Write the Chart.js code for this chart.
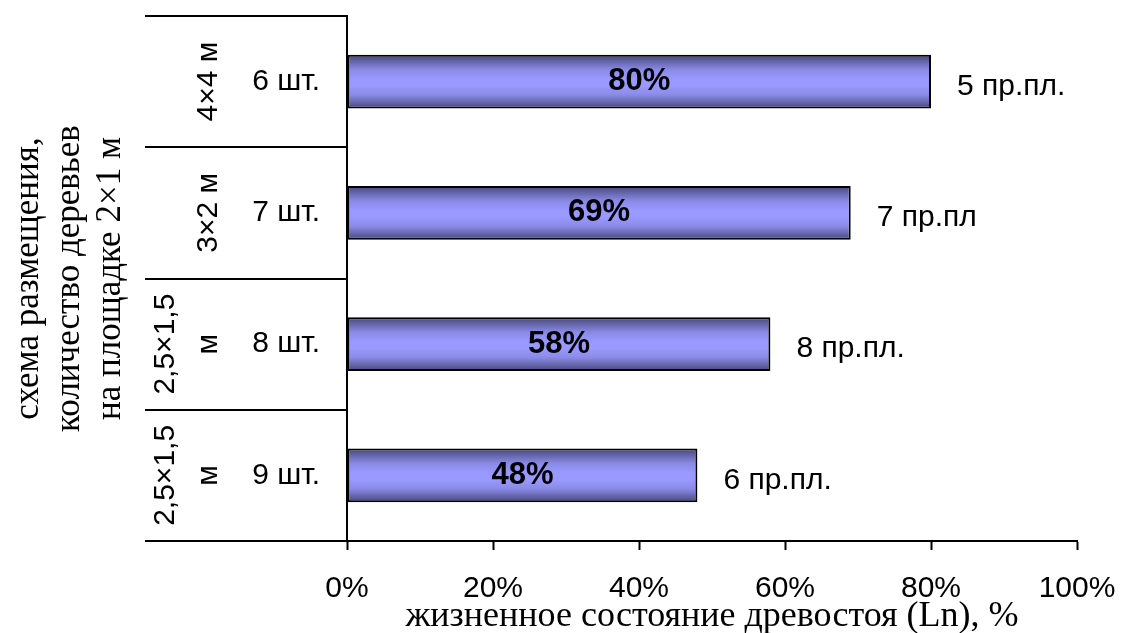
<!DOCTYPE html>
<html>
<head>
<meta charset="utf-8">
<script src="https://cdn.jsdelivr.net/npm/chart.js@4/dist/chart.umd.min.js"></script>
<style>
  html, body { margin: 0; padding: 0; background: #ffffff; }
  #wrap { width: 1121px; height: 633px; }
</style>
</head>
<body>
<div id="wrap"><canvas id="chart" width="1121" height="633"></canvas></div>
<script>
// Tree counts per 2×1 m plot (y-axis categories, top to bottom)
const treeCounts = ['6 шт.', '7 шт.', '8 шт.', '9 шт.'];
// Planting scheme for each row (multi-line group labels)
const spacingSchemes = [['4×4 м'], ['3×2 м'], ['2,5×1,5', 'м'], ['2,5×1,5', 'м']];
// Stand vitality index Ln, %
const vitality = [80, 69, 58, 48];
// Number of sample plots behind each bar
const plotCounts = ['5 пр.пл.', '7 пр.пл', '8 пр.пл.', '6 пр.пл.'];
// X-axis ticks, %
const xTicks = [0, 20, 40, 60, 80, 100];
const xTitle = 'жизненное состояние древостоя (Ln), %';
const yTitle = ['схема размещения,', 'количество деревьев', 'на площадке 2×1 м'];

const SANS = "'Liberation Sans', Arial, sans-serif";
const SERIF = "'Liberation Serif', 'Times New Roman', serif";
const BAR_FRACTION = 0.41;

// Vertical shaded fill for each bar: dark edges, light centre
function barFill(context) {
  const chart = context.chart;
  const ys = chart.scales.y;
  if (!chart.chartArea || !ys) return '#9999ff';
  const c = ys.getPixelForValue(context.dataIndex);
  const band = Math.abs(ys.getPixelForValue(1) - ys.getPixelForValue(0));
  const h = band * BAR_FRACTION / 2;
  const g = chart.ctx.createLinearGradient(0, c - h, 0, c + h);
  g.addColorStop(0, '#46467a');
  g.addColorStop(0.28, '#8a8ae6');
  g.addColorStop(0.45, '#9999ff');
  g.addColorStop(0.58, '#9999ff');
  g.addColorStop(0.75, '#8a8ae6');
  g.addColorStop(1, '#46467a');
  return g;
}

// Left-hand table lines, rotated scheme labels, side title and bar annotations
const annotations = {
  id: 'annotations',
  afterDraw(chart) {
    const ctx = chart.ctx;
    const area = chart.chartArea;
    const ys = chart.scales.y;
    const n = treeCounts.length;
    const band = (area.bottom - area.top) / n;
    const tableLeft = 145;

    ctx.save();
    ctx.strokeStyle = '#000';
    ctx.lineWidth = 2;
    for (let i = 0; i <= n; i++) {
      const yy = Math.round(area.top + i * band);
      ctx.beginPath();
      ctx.moveTo(tableLeft, yy);
      ctx.lineTo(area.left, yy);
      ctx.stroke();
    }

    // rotated planting-scheme labels
    ctx.fillStyle = '#000';
    ctx.font = '30px ' + SANS;
    ctx.textAlign = 'center';
    ctx.textBaseline = 'middle';
    const lastLineX = 209;
    const lineGap = 43;
    spacingSchemes.forEach((lines, i) => {
      const cy = ys.getPixelForValue(i);
      lines.forEach((txt, j) => {
        const x = lastLineX - (lines.length - 1 - j) * lineGap;
        ctx.save();
        ctx.translate(x, cy);
        ctx.rotate(-Math.PI / 2);
        ctx.fillText(txt, 0, 0);
        ctx.restore();
      });
    });

    // side title, three rotated lines
    ctx.font = '35px ' + SERIF;
    const midY = (area.top + area.bottom) / 2;
    yTitle.forEach((txt, j) => {
      ctx.save();
      ctx.translate(29 + j * 41, midY);
      ctx.rotate(-Math.PI / 2);
      ctx.fillText(txt, 0, 0);
      ctx.restore();
    });

    // value labels inside bars and plot counts beside them
    const meta = chart.getDatasetMeta(0);
    meta.data.forEach((bar, i) => {
      const p = bar.getProps(['x', 'y', 'base'], true);
      ctx.font = 'bold 31px ' + SANS;
      ctx.textAlign = 'center';
      ctx.fillText(vitality[i] + '%', (p.x + p.base) / 2, p.y);
      ctx.font = '30px ' + SANS;
      ctx.textAlign = 'left';
      ctx.fillText(plotCounts[i], p.x + 26, p.y + 5);
    });
    ctx.restore();
  }
};

new Chart(document.getElementById('chart'), {
  type: 'bar',
  data: {
    labels: treeCounts,
    datasets: [{
      data: vitality,
      backgroundColor: barFill,
      borderColor: '#000',
      borderWidth: 2,
      borderSkipped: false,
      barPercentage: BAR_FRACTION,
      categoryPercentage: 1
    }]
  },
  options: {
    indexAxis: 'y',
    responsive: false,
    animation: false,
    devicePixelRatio: 1,
    layout: { padding: { top: 16, right: 44, left: 0, bottom: 0 } },
    plugins: {
      legend: { display: false },
      tooltip: { enabled: false }
    },
    scales: {
      x: {
        min: 0,
        max: 100,
        afterBuildTicks: s => { s.ticks = xTicks.map(v => ({ value: v })); },
        afterFit: s => {
          s.height = 92;
          s.paddingLeft = 0;
          s.paddingRight = 0;
        },
        grid: {
          display: true,
          drawOnChartArea: false,
          drawTicks: true,
          tickLength: 9,
          tickWidth: 2,
          color: '#000'
        },
        border: { display: true, color: '#000', width: 2 },
        ticks: {
          padding: 21,
          color: '#000',
          font: { family: SANS, size: 30 },
          maxRotation: 0,
          callback: v => v + '%'
        },
        title: {
          display: true,
          text: xTitle,
          color: '#000',
          font: { family: SERIF, size: 36, lineHeight: 1 },
          padding: { top: 0, bottom: -2 }
        }
      },
      y: {
        afterFit: s => {
          s.width = 347;
          s.paddingTop = 0;
          s.paddingBottom = 0;
        },
        grid: { display: true, drawOnChartArea: false, drawTicks: false },
        border: { display: true, color: '#000', width: 2 },
        ticks: {
          padding: 27,
          color: '#000',
          font: { family: SANS, size: 30 }
        }
      }
    }
  },
  plugins: [annotations]
});
</script>
</body>
</html>
